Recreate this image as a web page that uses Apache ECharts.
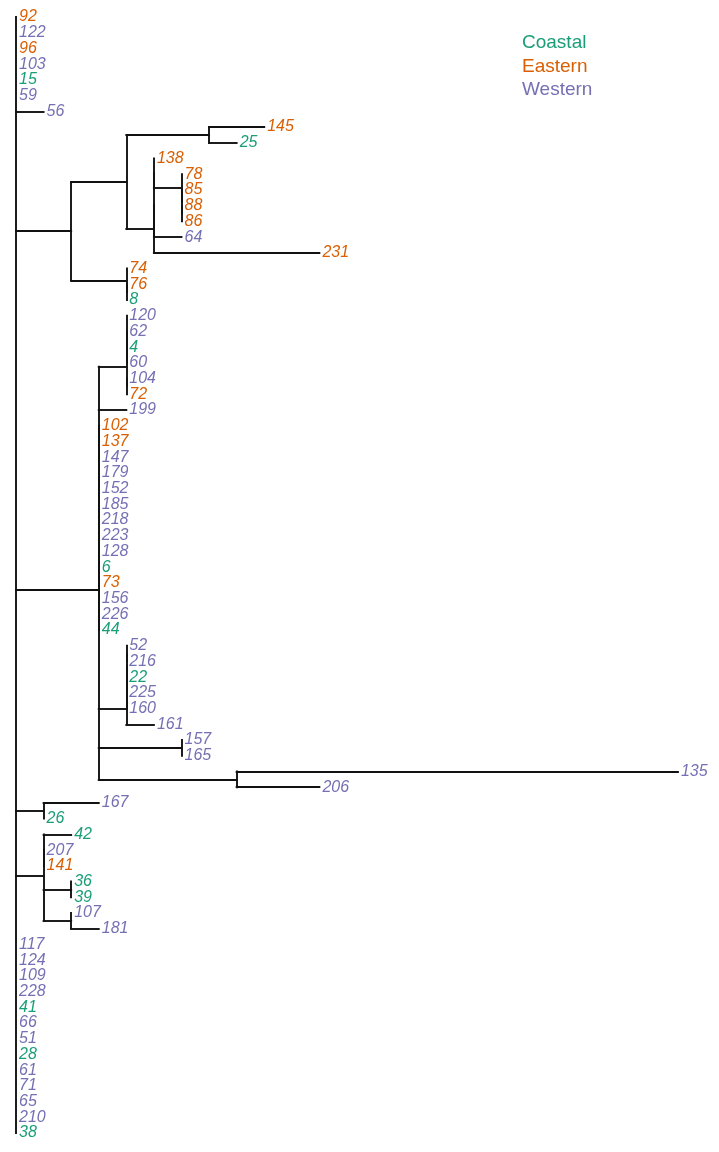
<!DOCTYPE html>
<html>
<head>
<meta charset="utf-8">
<script src="https://cdn.jsdelivr.net/npm/echarts@6/dist/echarts.min.js"></script>
<style>
  html, body { margin: 0; padding: 0; background: #fff; }
  #chart { width: 719px; height: 1152px; }
</style>
</head>
<body>
<div id="chart"></div>
<script>
  // tree in newick form, branch lengths in steps; zero-length edges keep the nesting
  const cladeA = '(((145:2,25:1):3,(((138:0,(78:0,(85:0,(88:0,86:0):0):0):1):0,64:1):0,231:6):1):2,(74:0,(76:0,8:0):0):2):2';
  const cladeB = '((((120:0,62:0,4:0):0,60:0):0,(104:0,72:0):0):1,199:1,' +
    '(102:0,137:0,147:0,179:0,152:0,185:0,218:0,223:0,128:0,6:0,73:0,156:0,226:0,44:0):0,' +
    '(((((52:0,216:0):0,22:0):0,225:0):0,160:0):0,161:1):1,(157:0,165:0):3,(135:16,206:3):5):3';
  const cladeC = '(167:2,26:0):1';
  const cladeD = '(42:1,(207:0,141:0):0,(36:0,39:0):1,(107:0,181:1):1):1';
  const treeNewick = '(92:0,122:0,96:0,103:0,15:0,59:0,56:1,' + cladeA + ',' + cladeB + ',' +
    cladeC + ',' + cladeD + ',117:0,124:0,109:0,228:0,41:0,66:0,51:0,28:0,61:0,71:0,65:0,210:0,38:0);';

  const groupNames = ['Coastal', 'Eastern', 'Western'];
  const coastal = ['15', '25', '8', '4', '6', '44', '22', '26', '42', '36', '39', '41', '28', '38'];
  const eastern = ['92', '96', '145', '138', '78', '85', '88', '86', '231', '74', '76', '72', '102', '137', '73', '141'];
  const western = ['122', '103', '59', '56', '64', '120', '62', '60', '104', '199', '147', '179', '152', '185',
    '218', '223', '128', '156', '226', '52', '216', '225', '160', '161', '157', '165', '135', '206', '167',
    '207', '107', '181', '117', '124', '109', '228', '66', '51', '61', '71', '65', '210'];

  const groupColors = ['#1b9e77', '#d95f02', '#7570b3'];

  // small newick reader
  function parseNewick(s) {
    let i = 0;
    function node() {
      const n = { children: [], name: '', len: 0 };
      if (s[i] === '(') {
        i++;
        n.children.push(node());
        while (s[i] === ',') { i++; n.children.push(node()); }
        i++; // ')'
      }
      let name = '';
      while (i < s.length && !',():;'.includes(s[i])) name += s[i++];
      n.name = name.trim();
      if (s[i] === ':') {
        i++;
        let num = '';
        while (i < s.length && !',();'.includes(s[i])) num += s[i++];
        n.len = parseFloat(num);
      }
      return n;
    }
    return node();
  }

  const root = parseNewick(treeNewick);
  const leaves = [];
  const segments = [];

  // depth = summed branch length, leaf y = order, node y = mean of children
  function layout(n, depth) {
    n.depth = depth;
    if (!n.children.length) {
      n.y = leaves.length;
      leaves.push(n);
      return;
    }
    n.children.forEach((c) => layout(c, depth + c.len));
    n.y = n.children.reduce((a, c) => a + c.y, 0) / n.children.length;
  }
  layout(root, 0);

  function collect(n) {
    if (!n.children.length) return;
    const first = n.children[0];
    const last = n.children[n.children.length - 1];
    segments.push({ coords: [[n.depth, first.y], [n.depth, last.y]] });
    n.children.forEach((c) => {
      if (c.len > 0) segments.push({ coords: [[n.depth, c.y], [c.depth, c.y]] });
      collect(c);
    });
  }
  collect(root);

  const groups = [coastal, eastern, western];
  const labelSeries = groupNames.map((g, k) => ({
    name: g,
    type: 'scatter',
    symbolSize: 0,
    silent: true,
    itemStyle: { color: groupColors[k], opacity: 1 },
    label: {
      show: true,
      position: 'right',
      distance: 3,
      formatter: (p) => p.name,
      color: groupColors[k],
      opacity: 1,
      fontSize: 16,
      fontStyle: 'italic',
      fontFamily: 'Liberation Sans, Arial, sans-serif',
    },
    data: leaves
      .filter((l) => groups[k].includes(l.name))
      .map((l) => ({ name: l.name, value: [l.depth, l.y] })),
  }));

  const chart = echarts.init(document.getElementById('chart'));
  chart.setOption({
    animation: false,
    backgroundColor: '#fff',
    grid: { left: 16, right: 13.5, top: 17, bottom: 19 },
    xAxis: { type: 'value', min: 0, max: 25, show: false },
    yAxis: { type: 'value', min: 0, max: leaves.length - 1, inverse: true, show: false },
    legend: {
      orient: 'vertical',
      left: 512,
      top: 26,
      icon: 'none',
      itemWidth: 0,
      itemHeight: 10,
      itemGap: 0,
      selectedMode: false,
      textStyle: {
        fontSize: 19,
        lineHeight: 23.6,
        fontFamily: 'Liberation Sans, Arial, sans-serif',
      },
      data: groupNames.map((g, k) => ({ name: g, textStyle: { color: groupColors[k] } })),
    },
    series: [
      {
        type: 'lines',
        coordinateSystem: 'cartesian2d',
        silent: true,
        lineStyle: { color: '#111', width: 1.9, opacity: 1, cap: 'square' },
        data: segments,
      },
      ...labelSeries,
    ],
  });
</script>
</body>
</html>
